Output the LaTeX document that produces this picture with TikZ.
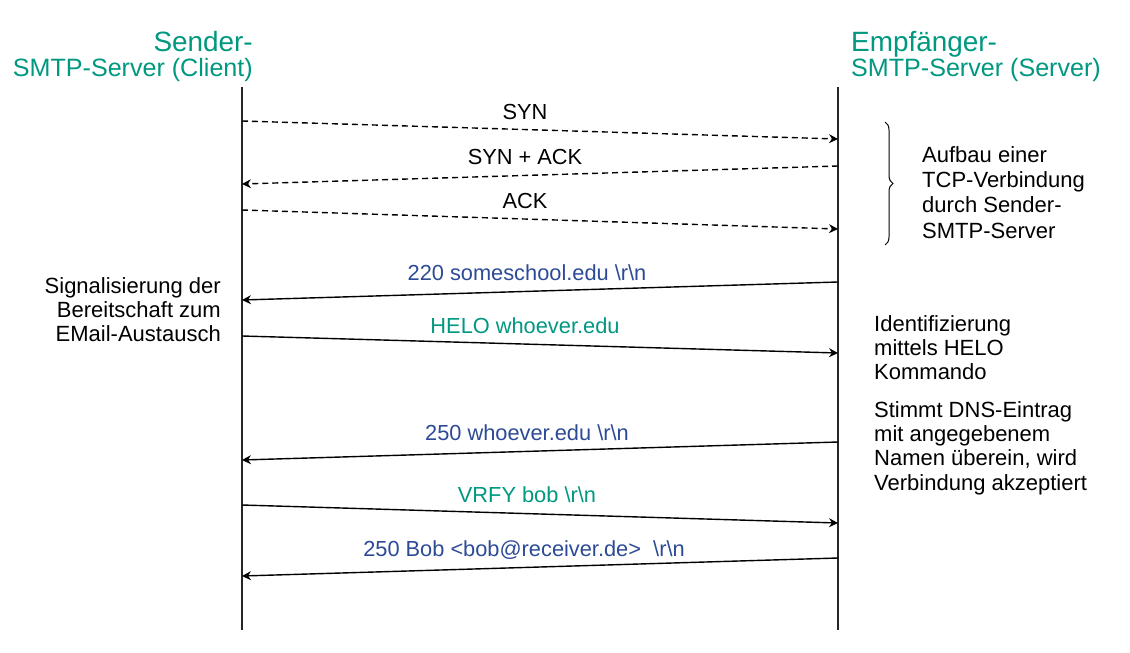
\documentclass[tikz,border=0pt]{standalone}
\usepackage{fontspec}
\setmainfont{Liberation Sans}
\usetikzlibrary{arrows.meta,decorations.pathreplacing}
\definecolor{hdrgreen}{RGB}{0,152,128}
\definecolor{msgblue}{RGB}{44,74,150}
\begin{document}
\begin{tikzpicture}[x=1pt,y=-1pt,
  lifeline/.style={line width=1.2pt, draw=black!85},
  msg/.style={line width=1.4pt, -{Stealth[length=9pt,width=9pt,inset=3pt]}},
  tcpmsg/.style={msg, dash pattern=on 6pt off 4pt},
  lbl/.style={font=\fontsize{21.8}{24}\selectfont, inner sep=0pt, anchor=base},
  note/.style={font=\fontsize{22}{24.3}\selectfont, inner sep=0pt},
  hdrA/.style={font=\fontsize{27.9}{30}\selectfont, text=hdrgreen, inner sep=0pt},
  hdrB/.style={font=\fontsize{25.1}{28}\selectfont, text=hdrgreen, inner sep=0pt}]
\useasboundingbox (0,0) rectangle (1130,653);

% headers
\node[hdrA, anchor=base east] (sendA) at (253,51) {Sender-};
\node[hdrB, anchor=base east] (sendB) at (253,76) {SMTP-Server (Client)};
\node[hdrA, anchor=base west] (recvA) at (851,51) {Empfänger-};
\node[hdrB, anchor=base west] (recvB) at (851,76) {SMTP-Server (Server)};

% lifelines
\coordinate (ctop) at (242,87);
\coordinate (cbot) at (242,630);
\coordinate (stop) at (838,87);
\coordinate (sbot) at (838,630);
\draw[lifeline] (ctop) -- (cbot);
\draw[lifeline] (stop) -- (sbot);

% message end points
\coordinate (c1) at (242,121); \coordinate (s1) at (838,139);
\coordinate (s2) at (838,166); \coordinate (c2) at (242,184);
\coordinate (c3) at (242,210); \coordinate (s3) at (838,229);
\coordinate (s4) at (838,282); \coordinate (c4) at (242,300);
\coordinate (c5) at (242,336); \coordinate (s5) at (838,353);
\coordinate (s6) at (838,442); \coordinate (c6) at (242,460);
\coordinate (c7) at (242,505); \coordinate (s7) at (838,523);
\coordinate (s8) at (838,558); \coordinate (c8) at (242,576);

% TCP handshake
\draw[tcpmsg] (c1) -- (s1);
\draw[tcpmsg] (s2) -- (c2);
\draw[tcpmsg] (c3) -- (s3);
\node[lbl] (l1) at (525,119) {SYN};
\node[lbl] (l2) at (525,164) {SYN + ACK};
\node[lbl] (l3) at (525,208) {ACK};

% SMTP messages
\draw[msg] (s4) -- (c4);
\draw[msg] (c5) -- (s5);
\draw[msg] (s6) -- (c6);
\draw[msg] (c7) -- (s7);
\draw[msg] (s8) -- (c8);
\node[lbl, text=msgblue] (l4) at (527,280) {220 someschool.edu \textbackslash r\textbackslash n};
\node[lbl, text=hdrgreen] (l5) at (525,333) {HELO whoever.edu};
\node[lbl, text=msgblue] (l6) at (527,440) {250 whoever.edu \textbackslash r\textbackslash n};
\node[lbl, text=hdrgreen] (l7) at (527,502) {VRFY bob \textbackslash r\textbackslash n};
\node[lbl, text=msgblue] (l8) at (524,556) {250 Bob <bob@receiver.de>\ \ \textbackslash r\textbackslash n};

% brace
\coordinate (bt) at (885,122);
\coordinate (bb) at (885,245);
\draw[line width=1pt, decorate, decoration={brace, amplitude=8pt}] (bt) -- (bb);

% notes
\node[note, align=right, anchor=north east] (ready) at (221,277) {Signalisierung der\\Bereitschaft zum\\EMail-Austausch};
\node[note, align=left, anchor=north west, font=\fontsize{22}{25.3}\selectfont] (tcp) at (922,146) {Aufbau einer\\TCP-Verbindung\\durch Sender-\\SMTP-Server};
\node[note, align=left, anchor=north west] (helo) at (874,315) {Identifizierung\\mittels HELO\\Kommando};
\node[note, align=left, anchor=north west] (dns) at (874,401) {Stimmt DNS-Eintrag\\mit angegebenem\\Namen überein, wird\\Verbindung akzeptiert};
\end{tikzpicture}
\end{document}
